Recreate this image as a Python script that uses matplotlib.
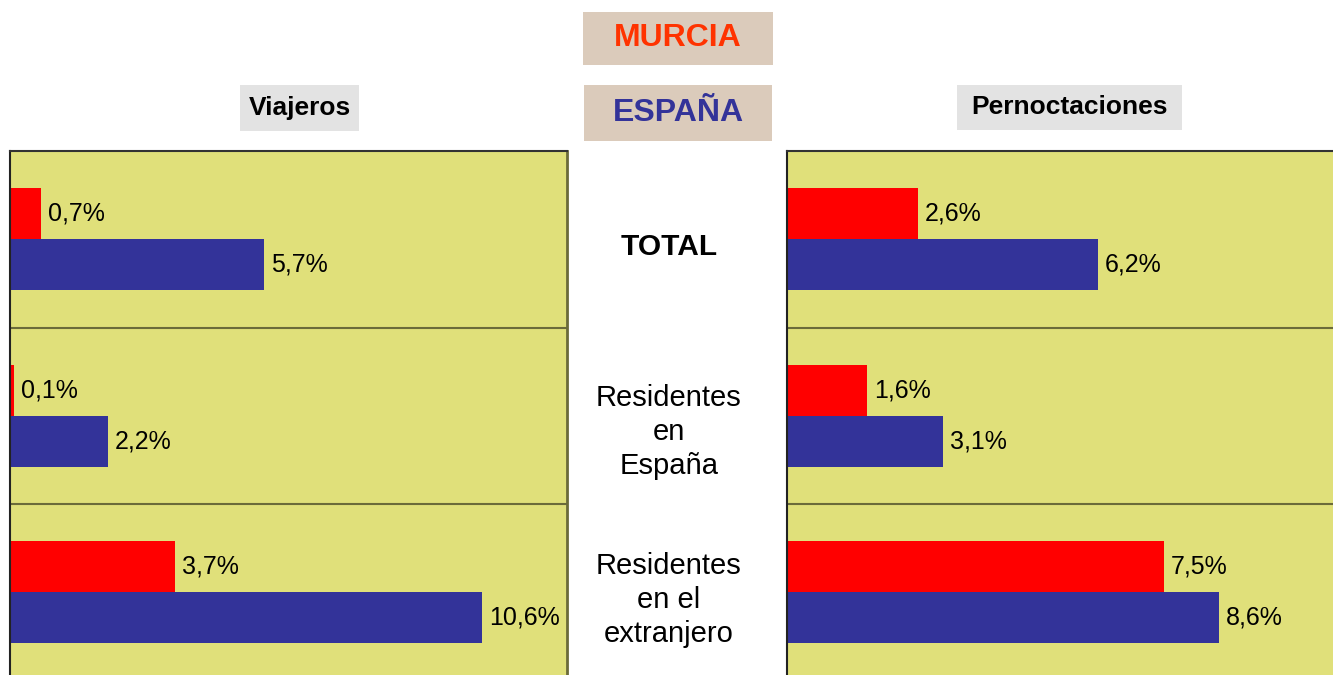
import matplotlib.pyplot as plt
from matplotlib.patches import Rectangle

plt.rcParams['font.family'] = ['Liberation Sans', 'DejaVu Sans']

# datos (% variacion)
categorias = ['TOTAL', 'Residentes\nen\nEspaña', 'Residentes\nen el\nextranjero']
viajeros_murcia = [0.7, 0.1, 3.7]
viajeros_espana = [5.7, 2.2, 10.6]
pernoct_murcia = [2.6, 1.6, 7.5]
pernoct_espana = [6.2, 3.1, 8.6]

ROJO = '#FF0000'
AZUL = '#333399'
FONDO = '#E0E07A'
REJILLA = '#6B6B3A'

W, H = 1333, 675
fig = plt.figure(figsize=(W / 100, H / 100), dpi=100)


def fx(x):
    return x / W


def fy(y):
    return 1 - y / H


def fmt(v):
    return f'{v:.1f}%'.replace('.', ',')


def panel(left, width, xmax, murcia, espana, right_spine=True):
    ax = fig.add_axes([fx(left), 0, width / W, 524 / H])
    ax.set_facecolor(FONDO)
    centros = [2.5, 1.5, 0.5]
    b1 = ax.barh([c + 0.145 for c in centros], murcia, height=0.29, color=ROJO)
    b2 = ax.barh([c - 0.145 for c in centros], espana, height=0.29, color=AZUL)
    ax.bar_label(b1, labels=[fmt(v) for v in murcia], padding=5, fontsize=18)
    ax.bar_label(b2, labels=[fmt(v) for v in espana], padding=5, fontsize=18)
    ax.set_xlim(0, xmax)
    ax.set_ylim(3 - 524 / 176.5, 3)
    ax.set_xticks([])
    ax.set_yticks([1, 2])
    ax.set_yticklabels([])
    ax.tick_params(axis='y', length=0)
    ax.yaxis.grid(True, color=REJILLA, linewidth=1.5)
    ax.spines['bottom'].set_visible(False)
    ax.spines['left'].set_color('#222222')
    ax.spines['left'].set_linewidth(1.5)
    ax.spines['top'].set_color('#333333')
    ax.spines['top'].set_linewidth(1.5)
    if right_spine:
        ax.spines['right'].set_color(REJILLA)
        ax.spines['right'].set_linewidth(2)
    else:
        ax.spines['right'].set_visible(False)
    return ax


panel(10, 557, 12.5, viajeros_murcia, viajeros_espana)
panel(787, 546, 546 / 50.2, pernoct_murcia, pernoct_espana, right_spine=False)


def caja(x0, y0, x1, y1, color, texto, tcolor, size):
    fig.add_artist(Rectangle((fx(x0), fy(y1)), (x1 - x0) / W, (y1 - y0) / H,
                             transform=fig.transFigure, facecolor=color,
                             edgecolor='none'))
    fig.text(fx((x0 + x1) / 2), fy((y0 + y1) / 2), texto, color=tcolor,
             fontsize=size, fontweight='bold', ha='center', va='center')


caja(583, 12, 773, 65, '#DBCBBB', 'MURCIA', '#FF3300', 23)
caja(584, 85, 772, 141, '#DBCBBB', 'ESPAÑA', '#333399', 23)
caja(240, 85, 359, 131, '#E3E3E3', 'Viajeros', 'black', 19)
caja(957, 85, 1182, 130, '#E3E3E3', 'Pernoctaciones', 'black', 19)

# etiquetas centrales
pos_y = [247, 432, 600]
for cat, y in zip(categorias, pos_y):
    if cat == 'TOTAL':
        fig.text(fx(669), fy(y), cat, fontsize=21.5, fontweight='bold',
                 ha='center', va='center')
    else:
        fig.text(fx(669), fy(y), cat, fontsize=21, ha='center', va='center',
                 linespacing=1.25)

fig.savefig('out.png', dpi=100)
